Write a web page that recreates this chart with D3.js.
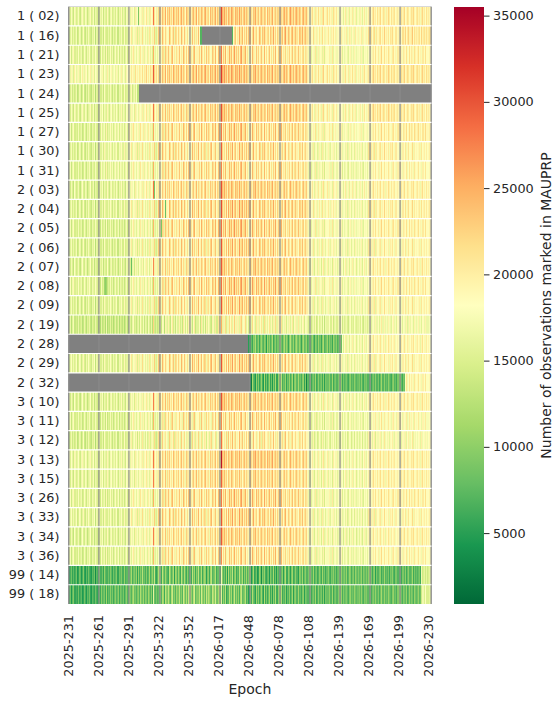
<!DOCTYPE html>
<html><head><meta charset="utf-8">
<script src="https://cdn.jsdelivr.net/npm/d3@7"></script>
<style>
body{margin:0;background:#fff}
svg{display:block}
text{font-family:"DejaVu Sans",sans-serif;fill:#262626}
</style>
</head><body>
<svg id="chart" width="560" height="703"></svg>
<script>
// ---------------- data ----------------
const rowLabels = ["1 ( 02)","1 ( 16)","1 ( 21)","1 ( 23)","1 ( 24)","1 ( 25)","1 ( 27)","1 ( 30)","1 ( 31)",
  "2 ( 03)","2 ( 04)","2 ( 05)","2 ( 06)","2 ( 07)","2 ( 08)","2 ( 09)","2 ( 19)","2 ( 28)","2 ( 29)","2 ( 32)",
  "3 ( 10)","3 ( 11)","3 ( 12)","3 ( 13)","3 ( 15)","3 ( 26)","3 ( 33)","3 ( 34)","3 ( 36)","99 ( 14)","99 ( 18)"];
const xTickLabels = ["2025-231","2025-261","2025-291","2025-322","2025-352","2026-017","2026-048",
  "2026-078","2026-108","2026-139","2026-169","2026-199","2026-230"];
const nEpochs = 363;
const tickStep = 30;
// epochs with no data at all (grey columns)
const emptyEpochs = [0,30,60,91,121,151,181,211,241,271,301,331,362];
// typical level (thousands) per row for each ~30-epoch block
const blockLevels = [
  [16,16,18.5,22,22,23,22,22.5,19.5,18,20,20],
  [15.5,15.5,18,20.5,20,21.5,21.5,22,19,18.5,20,20.5],
  [16,16,18,20.5,20.5,22,20.5,20.5,18,17.5,19.5,19.5],
  [17.5,17.5,20,22,22.5,23.5,22.5,22.5,19.5,19,20.5,20.5],
  [15,15.5,16,null,null,null,null,null,null,null,null,null],
  [16,16.5,18.5,21,21.5,22.5,22,22,19,18.5,20.5,20],
  [15.5,16.5,18.5,20.5,21,22,21,21,18.5,18,19.5,20],
  [15.5,16.5,18,20.5,20.5,21.5,21,20.5,17.5,17.5,19.5,19],
  [15.5,16.5,18,20.5,20.5,21.5,20.5,20.5,17.5,17,19,19],
  [15.5,16,18.5,21,21,22.5,22,21.5,18.5,18,19.5,19.5],
  [15.5,16,18,21,21,22.5,21.5,21.5,18.5,17.5,19.5,19.5],
  [15.5,15.5,17.5,20.5,21,22.5,21.5,21,18,17.5,19.5,19.5],
  [15.5,15.5,17.5,20.5,20.5,22,21.5,21,18,17.5,19,19],
  [15.5,15.5,17.5,20.5,21,22,22,21.5,17.5,17.5,19.5,19.5],
  [16,15.5,17.5,20.5,21,22.5,22,21.5,18,17.5,19.5,19.5],
  [15.5,16,17.5,20,20.5,22,21.5,21,17.5,17.5,19,19],
  [14.5,14,15.5,16.5,16.5,19,18,17.5,16,16,17.5,17.5],
  [null,null,null,null,null,null,8.5,9,8.5,17.5,19,19],
  [16,16,18,20.5,21,22,21.5,21,17.5,17.5,19,19],
  [null,null,null,null,null,null,7.5,8.5,8,8,8,19],
  [15.5,16,18,21,21,22.5,22,21.5,18,17.5,19.5,19.5],
  [15.5,15.5,17.5,19.5,19.5,21,21,20.5,17,17,18.5,18.5],
  [15,15.5,17,19,18.5,20.5,20,20,16.5,16.5,18,18],
  [16.5,16.5,18.5,21,21,22.5,22.5,21.5,18,17.5,19.5,19.5],
  [16,16.5,18,20.5,21,21.5,21.5,21,17.5,17.5,19.5,19.5],
  [16,16,18,20.5,20.5,22,21.5,21,17.5,17,19.5,19.5],
  [16,16,18,20.5,20.5,22,21.5,21,17.5,17,19,19],
  [15.5,16,18,20.5,20.5,22,21.5,21,17.5,17,19,19.5],
  [15.5,16,17.5,20,20,21,21,20.5,17.5,17,19,19],
  [6.5,7.5,8.5,9,9,9,7.5,8,8,8.5,8,8],
  [6.5,8,9,10,10.5,9.5,8,8,8,8.5,8.5,8.5]
];
// day-to-day stripe patterns (thousands); each row follows one of them
const stripesA = [
  0,1,-1,2,0,-2,3,1,-1,0, 2,-1,-2,1,3,0,-1,2,1,-2, 0,1,3,-1,0,2,-2,1,0,-1,
  0,-1,1,0,2,-2,1,0,-1,3, 0,-2,1,2,-1,0,1,-1,2,0, -2,1,0,3,-1,1,0,-2,2,1,
  0,1,-1,2,0,1,-2,3,0,1, -1,2,1,0,3,-1,2,1,4,0, 2,-1,3,1,2,11,4,1,3,0,
  2,0,3,-1,4,1,0,5,-2,3, 1,4,0,2,-1,5,2,0,3,1, 4,-1,2,5,0,3,1,-2,4,2,
  1,0,3,-1,2,4,0,1,5,-2, 3,1,0,4,2,-1,3,5,0,1, 2,-2,4,1,3,0,2,5,-1,3,
  1,0,3,10,4,2,5,1,3,-1, 4,2,0,5,3,1,-1,4,2,3, 0,5,1,3,-1,2,4,0,3,1,
  0,2,4,1,-1,3,2,5,0,1, 3,-1,2,4,1,0,3,2,-2,4, 1,3,0,2,5,-1,1,3,0,2,
  1,0,3,1,-1,2,4,0,3,1, -2,2,5,1,0,3,-1,2,4,1, 0,3,1,-2,2,4,0,1,3,-1,
  0,2,-1,1,3,0,-2,2,1,-1, 3,0,1,-2,2,4,-1,0,1,3, -1,2,0,1,-2,3,1,0,2,-1,
  0,-1,2,0,1,-2,1,3,-1,0, 2,-2,1,0,3,-1,1,2,-2,0, 1,-1,2,0,-2,1,3,0,-1,1,
  1,0,2,-1,1,3,0,1,-1,2, 0,1,3,-1,0,2,1,-2,1,0, 3,1,-1,2,0,1,2,-1,0,1,
  0,1,-1,2,0,1,3,-1,0,2, 1,-1,0,2,1,3,0,-1,1,2, 0,1,-2,1,3,0,1,-1,2,0,
  1,0,0
];
const stripesB = [
  1,-2,0,2,-1,1,-1,0,2,-2, -1,2,1,-2,0,3,-1,-2,1,-1, 2,0,-1,-2,1,0,2,-3,1,0,
  0,2,-1,-1,1,-2,3,0,-1,-1, 1,-1,2,0,-2,1,-1,0,2,-2, -2,1,0,2,-1,-1,3,-1,0,0,
  1,-1,0,3,-2,0,1,-1,2,-3, 2,-2,1,-1,4,-1,0,-2,1,-2, -1,3,-2,0,2,-1,5,-2,-3,-1,
  3,-2,1,-3,4,0,-2,2,-1,-2, -3,4,1,-2,0,3,-4,2,1,-2, 2,-1,-3,4,0,-2,3,-1,-3,1,
  -2,3,0,-3,4,-1,2,-3,1,-1, 4,-2,-1,3,-3,0,2,1,-4,0, 1,-3,2,4,-2,-1,0,3,-3,-1,
  -1,2,-3,8,1,-2,0,-3,2,-4, 3,-2,1,-1,4,-3,0,2,-3,-1, -2,4,-1,0,3,-3,1,-2,2,-2,
  2,-1,3,-3,0,4,-2,-1,1,-3, -2,3,1,-4,2,0,3,-1,-2,0, 1,-3,2,0,-1,4,-2,1,-3,1,
  -1,3,-2,0,2,-3,1,4,-2,-2, 2,0,-3,1,3,-2,-1,2,-1,-1, -3,2,1,-1,3,-2,0,2,-1,-1,
  1,-2,2,0,-1,3,-2,0,1,-2, -1,2,0,-2,3,-1,1,-2,0,0, 2,-1,-2,1,0,2,-1,1,-2,0,
  0,1,-2,2,-1,0,1,-1,2,-2, -1,2,1,-2,0,1,-2,2,0,-1, 1,-1,0,2,-2,1,0,-1,1,-1,
  2,-1,0,1,-2,1,2,-3,1,-1, -1,1,2,-2,0,-1,3,-1,0,-1, 1,-2,1,0,2,-1,-2,1,1,-1,
  -1,2,0,-2,1,1,-1,2,-2,0, 2,-1,-1,0,3,-2,1,-1,0,-1, 0,1,-2,2,-1,0,1,-1,1,-1,
  0,1,-1
];
const stripesC = [
  -1,0,2,-2,1,3,-1,-1,0,-1, 2,-1,0,1,-2,-1,2,0,-2,1, 0,2,-1,-2,1,0,-1,2,0,-1,
  1,0,-2,2,-1,0,1,-2,3,-2, 0,-1,2,-1,1,-2,0,2,-1,0, 2,-2,1,0,-1,1,-2,0,2,-1,
  -1,2,0,-2,1,3,-1,0,-2,0, 1,-2,3,0,-1,2,-2,1,0,-2, 2,0,-2,1,-3,7,-1,-2,0,-2,
  -2,4,0,-3,2,1,-4,3,0,-1, 3,-1,-3,2,4,-2,0,-3,1,-1, -1,3,-2,0,-3,4,1,-2,2,-2,
  3,-2,1,0,-3,2,4,-3,-1,-1, -1,2,-3,4,0,-2,1,-3,3,-1, 2,0,-2,-3,3,1,-1,4,-2,-2,
  2,-1,0,6,-3,1,-2,3,-4,-2, -2,3,-1,2,-3,0,4,-2,1,-2, 1,-3,2,4,-2,-1,0,3,-3,-1,
  -3,1,2,-2,4,0,-1,-3,3,-1, 2,-2,0,3,-1,-3,4,-2,1,-2, 0,3,-2,1,-3,2,-1,4,-2,-2,
  2,-3,1,4,-2,0,-1,2,-3,0, -1,2,-2,0,3,-3,1,2,-1,-1, 3,-1,0,-2,1,2,-3,1,0,-1,
  -1,1,2,-2,0,1,-1,3,-2,-1, 2,-1,0,1,-2,2,-3,1,0,0, 0,2,-1,-1,3,-2,0,1,-1,-1,
  1,-1,0,2,-2,1,-1,0,1,-1, -2,1,2,-1,0,-1,2,0,-1,0, 0,1,-1,2,-1,-2,1,0,1,-1,
  -1,2,1,-2,0,1,-1,2,-1,-1, 1,-2,0,3,-1,-1,2,-1,0,-1, 2,0,-1,-2,1,2,-1,0,-2,1,
  1,-1,2,0,-2,1,0,-1,2,-2, -1,2,-1,1,0,-2,2,0,-1,0, 2,-1,0,-2,1,1,-1,2,-1,-1,
  -1,0,1
];
const stripePatterns = [stripesA, stripesB, stripesC];
// block means of each stripe pattern (thousands)
const patternBlockMeans = [
  [0.3,0.3,1.3,1.7,1.6,2.2,1.6,1.3,0.7,0.4,0.7,0.7],
  [0,0,0,0,0,0,0,0,0,0,0,0],
  [0,0,0,0,0,0,0,0,0,0,0,0]
];
const rowPattern = [0,1,2,0,1,0,2,1,2,0,1,2,1,0,2,1,2,0,1,2,0,2,1,0,0,2,1,0,2,1,2];
// [row, firstEpoch, lastEpoch, level (thousands) or null = no data]
const rangeLevels = [
  [1,133,163,null],
  [4,70,89,null],
  [19,180,180,null],
  [17,270,273,8.5],
  [19,330,336,8],
  [29,353,361,15],
  [30,353,361,16]
];
// single cells [row, epoch, value (thousands)]
const singleCells = [
  [0,70,9],[1,132,7],[1,164,7],[9,86,9],[10,97,8],[11,93,9],[13,63,8],
  [14,36,11],[14,37,10],[14,38,11],[23,153,34],
  [17,180,5],[17,181,6],[17,182,5],[19,182,3],[19,183,2.5],[19,238,3]
];
const cbTicks = [5000,10000,15000,20000,25000,30000,35000];
const vMin = 890, vMax = 35500;
const cmapColors = ["#006837","#1a9850","#66bd63","#a6d96a","#d9ef8b","#ffffbf",
                    "#fee08b","#fdae61","#f46d43","#d73027","#a50026"];

// ---------------- build matrix ----------------
const cells = [];
rowLabels.forEach((lab, r) => {
  const pat = stripePatterns[rowPattern[r]];
  const means = patternBlockMeans[rowPattern[r]];
  for (let c = 0; c < nEpochs; c++) {
    if (emptyEpochs.includes(c)) continue;
    const b = Math.min(11, Math.floor(c / tickStep));
    let lvl = blockLevels[r][b];
    for (const [rr, s, e, v] of rangeLevels) if (rr === r && c >= s && c <= e) lvl = v;
    let val = lvl === null ? null : (lvl - means[b] + pat[c]) * 1000;
    for (const [rr, cc, v] of singleCells) if (rr === r && cc === c) val = v * 1000;
    if (val !== null) cells.push({r: lab, c, v: val});
  }
});

// ---------------- drawing ----------------
const svg = d3.select("#chart");
const L = 68.3, R = 431.5, T = 6.7, B = 604;
const x = d3.scaleBand().domain(d3.range(nEpochs)).range([L, R]).padding(0);
const y = d3.scaleBand().domain(rowLabels).range([T, B]).padding(0);
const color = d3.scaleLinear()
  .domain(cmapColors.map((_, i) => vMin + i * (vMax - vMin) / (cmapColors.length - 1)))
  .range(cmapColors).interpolate(d3.interpolateRgb).clamp(true);

svg.append("rect").attr("x", L).attr("y", T).attr("width", R - L).attr("height", B - T).attr("fill", "#808080");

svg.append("g").attr("shape-rendering", "crispEdges").selectAll("rect").data(cells).join("rect")
  .attr("x", d => x(d.c)).attr("y", d => y(d.r))
  .attr("width", x.bandwidth() + 0.4).attr("height", y.bandwidth())
  .attr("fill", d => color(d.v));

// empty epochs
svg.append("g").selectAll("rect").data(emptyEpochs).join("rect")
  .attr("x", d => x(d)).attr("y", T).attr("width", x.bandwidth() + 0.2).attr("height", B - T)
  .attr("fill", "#8a8a8a");

// white separators between rows
svg.append("g").selectAll("line").data(rowLabels.slice(1)).join("line")
  .attr("x1", L).attr("x2", R).attr("y1", d => y(d)).attr("y2", d => y(d))
  .attr("stroke", "#fff").attr("stroke-width", 1.2);

// y axis
const yAxis = svg.append("g").attr("transform", `translate(${L},0)`)
  .call(d3.axisLeft(y).tickSize(0).tickPadding(8.8));
yAxis.select(".domain").remove();
yAxis.selectAll("text").style("font-size", "12.8px").attr("fill", "#262626");

// x axis
const xAxis = svg.append("g").attr("transform", `translate(0,${B})`)
  .call(d3.axisBottom(x).tickValues(d3.range(0, nEpochs, tickStep)).tickSize(0)
    .tickFormat(i => xTickLabels[i / tickStep]));
xAxis.select(".domain").remove();
xAxis.selectAll("text").style("font-size", "12.8px").attr("fill", "#262626")
  .attr("transform", "rotate(-90)").attr("x", -11).attr("y", 0).attr("dy", "0.35em")
  .attr("text-anchor", "end");

svg.append("text").attr("x", (L + R) / 2).attr("y", 693.5).attr("text-anchor", "middle")
  .style("font-size", "14px").text("Epoch");

// colorbar
const cbX = 454, cbW = 30, cbT = 7, cbB = 604;
const grad = svg.append("defs").append("linearGradient").attr("id", "cbg")
  .attr("x1", 0).attr("y1", 1).attr("x2", 0).attr("y2", 0);
d3.range(0, 101).forEach(i => {
  grad.append("stop").attr("offset", i + "%").attr("stop-color", color(vMin + (vMax - vMin) * i / 100));
});
svg.append("rect").attr("x", cbX).attr("y", cbT).attr("width", cbW).attr("height", cbB - cbT)
  .attr("fill", "url(#cbg)");
const cbScale = d3.scaleLinear().domain([vMin, vMax]).range([cbB, cbT]);
const cbAxis = svg.append("g").attr("transform", `translate(${cbX + cbW},0)`)
  .call(d3.axisRight(cbScale).tickValues(cbTicks).tickSize(5.5).tickPadding(3.5).tickFormat(d3.format("d")));
cbAxis.select(".domain").remove();
cbAxis.selectAll("line").attr("stroke", "#262626");
cbAxis.selectAll("text").style("font-size", "12.8px").attr("fill", "#262626");

svg.append("text").attr("transform", `translate(546,${(cbT + cbB) / 2}) rotate(-90)`)
  .attr("text-anchor", "middle").attr("dy", "0.35em").style("font-size", "14px")
  .text("Number of observations marked in MAUPRP");
</script>
</body></html>
